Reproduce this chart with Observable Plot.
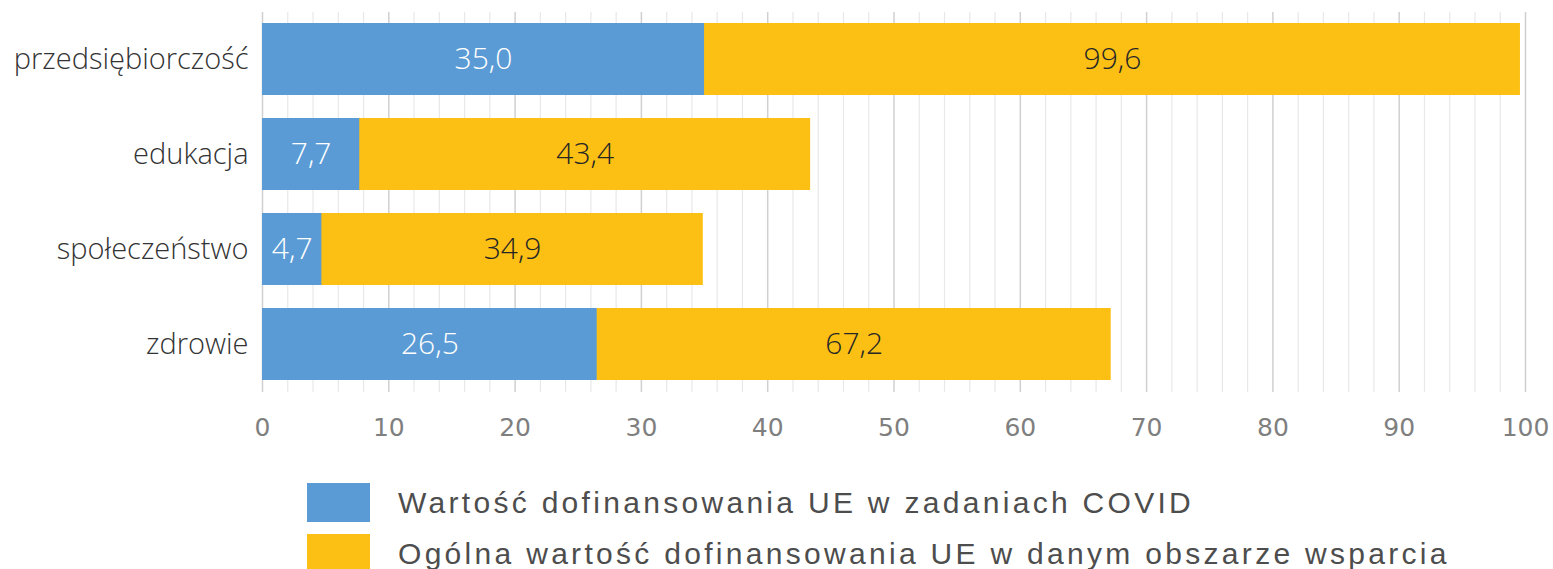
<!DOCTYPE html>
<html><head><meta charset="utf-8">
<script src="https://cdn.jsdelivr.net/npm/d3@7"></script>
<script src="https://cdn.jsdelivr.net/npm/@observablehq/plot@0.6"></script>
<style>
body{margin:0;background:#fff;}
#chart svg{display:block;}
.legend{position:relative;height:99px;font-family:"Liberation Sans",Arial,sans-serif;font-size:30px;letter-spacing:3.3px;color:#4d4d4d;}
.li{position:absolute;left:307px;display:flex;align-items:center;white-space:nowrap;}
.sw{width:63px;height:39px;margin-right:28px;}
</style></head>
<body>
<div id="chart"></div>
<div class="legend" id="legend"></div>
<script>
const categories = ["przedsiębiorczość","edukacja","społeczeństwo","zdrowie"];
const covidValues = [35.0, 7.7, 4.7, 26.5];
const totalValues = [99.6, 43.4, 34.9, 67.2];
const seriesNames = ["Wartość dofinansowania UE w zadaniach COVID","Ogólna wartość dofinansowania UE w danym obszarze wsparcia"];
const colors = ["#5b9bd5","#fcc014"];
const majorTicks = [0,10,20,30,40,50,60,70,80,90,100];
const minorTicks = d3.range(0,101,2).filter(v => v % 10 !== 0);

const rows = categories.map((c,i)=>({cat:c, covid:covidValues[i], total:totalValues[i]}));
const fmt = v => v.toFixed(1).replace(".", ",");

const plot = Plot.plot({
  width: 1553, height: 470,
  marginLeft: 262, marginRight: 28, marginTop: 12, marginBottom: 78,
  x: {domain:[0,100]},
  y: {domain: categories, paddingInner: 0.24, paddingOuter: 0.12},
  style: {fontFamily: "'Open Sans', sans-serif"},
  marks: [
    Plot.ruleX(minorTicks, {x: d=>d, stroke:"#e8e8e8", strokeWidth:1.2}),
    Plot.ruleX(majorTicks, {x: d=>d, stroke:"#d0d0d0", strokeWidth:1.5}),
    Plot.barX(rows, {y:"cat", x1:0, x2:"total", fill:colors[1]}),
    Plot.barX(rows, {y:"cat", x1:0, x2:"covid", fill:colors[0]}),
    Plot.text(rows, {y:"cat", x: d=>d.covid/2, text: d=>fmt(d.covid), fill:"#fff", fontSize:30, fontWeight:300}),
    Plot.text(rows, {y:"cat", x: d=>(d.covid+d.total)/2, text: d=>fmt(d.total), fill:"#262626", fontSize:30, fontWeight:300}),
    Plot.axisY({tickSize:0, tickPadding:14, fontSize:29, fontWeight:300, color:"#333", label:null}),
    Plot.axisX(majorTicks, {tickSize:0, tickPadding:26, fontSize:25, color:"#7f7f7f", label:null, fontFamily:"'DejaVu Sans', sans-serif"})
  ]
});
document.getElementById("chart").appendChild(plot);
d3.select(plot).selectAll("[aria-label='y-axis tick label'] text").attr("font-weight",300).attr("fill","#333");

const leg = document.getElementById("legend");
seriesNames.forEach((n,i)=>{
  const d = document.createElement("div");
  d.className="li"; d.style.top = (13 + i*51) + "px";
  d.innerHTML = `<div class="sw" style="background:${colors[i]}"></div><span>${n}</span>`;
  leg.appendChild(d);
});
</script>
</body></html>
